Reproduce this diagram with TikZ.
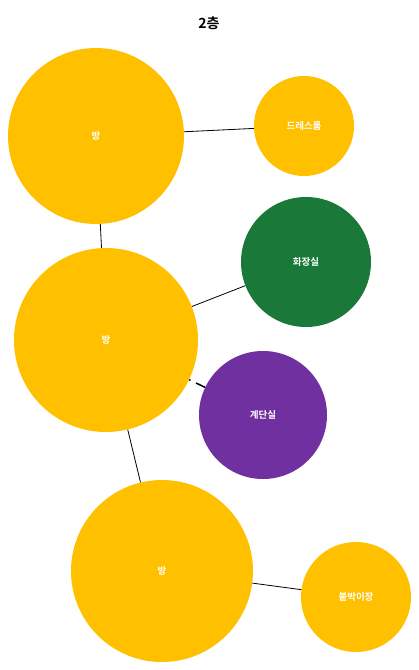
\documentclass[tikz,border=0pt]{standalone}
\usepackage{fontspec}
\newfontfamily\kr{Noto Sans CJK KR}[BoldFont={* Bold}]
\definecolor{cyellow}{RGB}{255,192,0}
\definecolor{cgreen}{RGB}{26,120,56}
\definecolor{cpurple}{RGB}{112,48,160}
\begin{document}
\begin{tikzpicture}[x=1pt,y=-1pt,
  room/.style={circle,inner sep=0pt,text=white,font=\kr\bfseries\fontsize{9.5}{11}\selectfont},
  link/.style={draw=black,line width=0.8pt}]
\useasboundingbox[fill=white] (0,0) rectangle (419,670);
\node[font=\kr\bfseries\fontsize{14}{16}\selectfont] (title) at (209,23) {2층};
\node[room,fill=cyellow,minimum size=176pt] (r1) at (96,136) {방};
\node[room,fill=cyellow,minimum size=100pt] (dr) at (304,126) {드레스룸};
\node[room,fill=cyellow,minimum size=184pt] (r2) at (106,340) {방};
\node[room,fill=cgreen,minimum size=130pt] (wc) at (306,262) {화장실};
\node[room,fill=cpurple,minimum size=128pt] (st) at (263,415) {계단실};
\node[room,fill=cyellow,minimum size=182pt] (r3) at (162,571) {방};
\node[room,fill=cyellow,minimum size=110pt] (cl) at (356,597) {붙박이장};
\draw[link] (r1) -- (dr);
\draw[link] (r1) -- (r2);
\draw[link] (r2) -- (wc);
\draw[link,line width=1.5pt,dash pattern=on 1.5pt off 6pt on 10pt off 2pt] (r2) -- (st);
\draw[link] (r2) -- (r3);
\draw[link] (r3) -- (cl);
\end{tikzpicture}
\end{document}
